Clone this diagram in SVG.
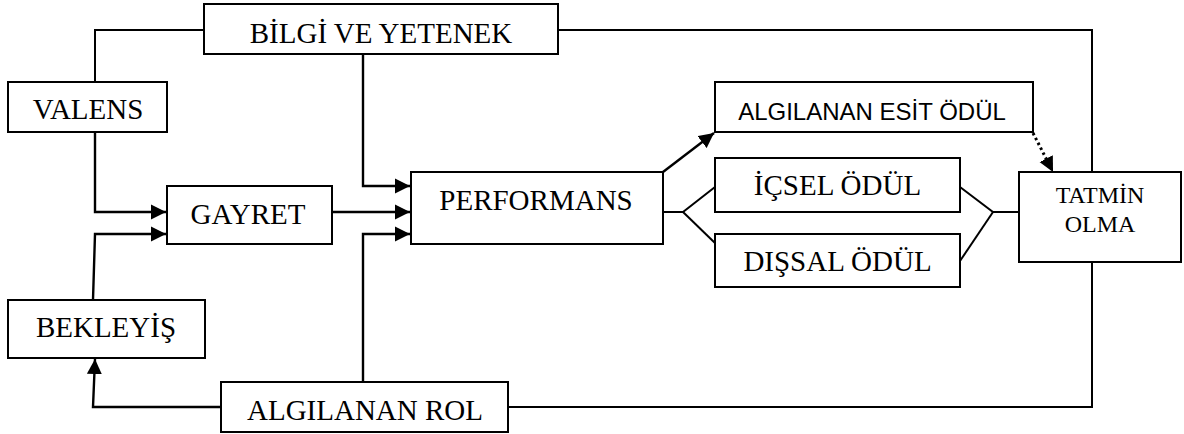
<svg xmlns="http://www.w3.org/2000/svg" width="1184" height="434" viewBox="0 0 1184 434">
  <style>
    .box { fill: #fff; stroke: #000; stroke-width: 2; }
    .wire { fill: none; stroke: #000; stroke-width: 2; }
    .arrow { fill: none; stroke: #000; stroke-width: 2.4; marker-end: url(#head); }
    .dotted { fill: none; stroke: #000; stroke-width: 3; stroke-dasharray: 2.5 3; marker-end: url(#head); }
  </style>
  <defs>
    <marker id="head" markerUnits="userSpaceOnUse" markerWidth="16" markerHeight="16" viewBox="0 0 16 16" refX="15" refY="8" orient="auto">
      <path d="M0,0.5 L15,8 L0,15.5 z" fill="#000"/>
    </marker>
  </defs>

  <rect width="1184" height="434" fill="#fff"/>

  <!-- connectors -->
  <g id="connectors">
    <!-- knowledge & skill feeds valence and satisfaction -->
    <polyline class="wire" points="204,30 95,30 95,82"/>
    <polyline class="wire" points="558,30 1092,30 1092,172"/>
    <!-- valence to effort -->
    <polyline class="arrow" points="95,132 95,212 166,212"/>
    <!-- expectancy to effort -->
    <polyline class="arrow" points="93,300 95,234 166,234"/>
    <!-- knowledge & skill to performance -->
    <polyline class="arrow" points="363,54 363,186 410,186"/>
    <!-- effort to performance -->
    <polyline class="arrow" points="332,212 410,212"/>
    <!-- role perception to performance -->
    <polyline class="arrow" points="363,382 363,234 410,234"/>
    <!-- role perception to expectancy -->
    <polyline class="arrow" points="221,407 93,407 95,359"/>
    <!-- role perception to satisfaction -->
    <polyline class="wire" points="508,407 1092,407 1092,262"/>
    <!-- performance to perceived equitable reward -->
    <line class="arrow" x1="663" y1="172" x2="714" y2="133"/>
    <!-- perceived equitable reward to satisfaction -->
    <line class="dotted" x1="1033" y1="133" x2="1053" y2="172"/>
    <!-- performance splits into the two rewards -->
    <polyline class="wire" points="663,212 683,212 715,187"/>
    <line class="wire" x1="683" y1="212" x2="715" y2="243"/>
    <!-- rewards join into satisfaction -->
    <polyline class="wire" points="960,187 993,212 1019,212"/>
    <line class="wire" x1="960" y1="261" x2="993" y2="212"/>
  </g>

  <g fill="#000" text-anchor="middle">
    <g id="bilgi-ve-yetenek">
      <rect class="box" x="204" y="4" width="354" height="50"/>
      <text x="381" y="43" font-family="Liberation Serif, serif" font-size="29">BİLGİ VE YETENEK</text>
    </g>

    <g id="valens">
      <rect class="box" x="8" y="82" width="159" height="50"/>
      <text x="88" y="119" font-family="Liberation Serif, serif" font-size="29">VALENS</text>
    </g>

    <g id="gayret">
      <rect class="box" x="167" y="186" width="165" height="58"/>
      <text x="248" y="224" font-family="Liberation Serif, serif" font-size="29">GAYRET</text>
    </g>

    <g id="performans">
      <rect class="box" x="411" y="172" width="252" height="72"/>
      <text x="536" y="210" font-family="Liberation Serif, serif" font-size="29">PERFORMANS</text>
    </g>

    <g id="algilanan-esit-odul">
      <rect class="box" x="715" y="82" width="318" height="50"/>
      <text x="872" y="120" font-family="Liberation Sans, sans-serif" font-size="24">ALGILANAN ESİT ÖDÜL</text>
    </g>

    <g id="icsel-odul">
      <rect class="box" x="715" y="158" width="245" height="54"/>
      <text x="837.5" y="195" font-family="Liberation Serif, serif" font-size="29">İÇSEL ÖDÜL</text>
    </g>

    <g id="dissal-odul">
      <rect class="box" x="715" y="234" width="245" height="53"/>
      <text x="837.5" y="271" font-family="Liberation Serif, serif" font-size="29">DIŞSAL ÖDÜL</text>
    </g>

    <g id="tatmin-olma">
      <rect class="box" x="1019" y="172" width="162" height="90"/>
      <text x="1100" y="203" font-family="Liberation Serif, serif" font-size="24">TATMİN</text>
      <text x="1100" y="232" font-family="Liberation Serif, serif" font-size="24">OLMA</text>
    </g>

    <g id="bekleyis">
      <rect class="box" x="8" y="300" width="197" height="58"/>
      <text x="106" y="337" font-family="Liberation Serif, serif" font-size="29">BEKLEYİŞ</text>
    </g>

    <g id="algilanan-rol">
      <rect class="box" x="221" y="382" width="287" height="50"/>
      <text x="365" y="420" font-family="Liberation Serif, serif" font-size="29">ALGILANAN ROL</text>
    </g>
  </g>
</svg>
